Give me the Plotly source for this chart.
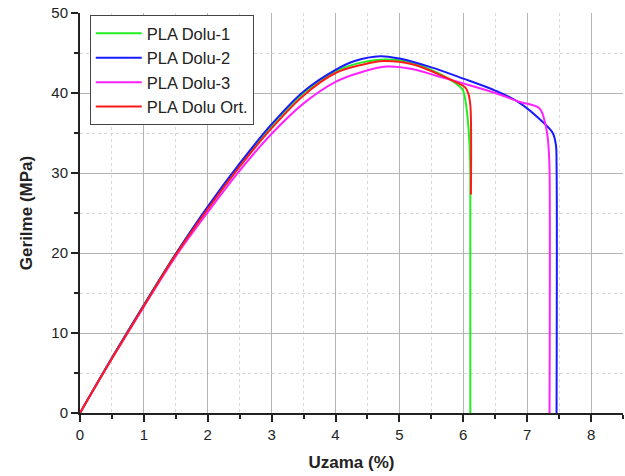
import plotly.graph_objects as go

# ---- data (strain %, stress MPa) ----
d1_x = [0, 0.5, 1.0, 1.5, 2.0, 2.5, 3.0, 3.5, 4.0, 4.4, 4.8, 5.2, 5.6, 5.9, 5.99, 6.04, 6.08, 6.10, 6.11, 6.11]
d1_y = [0, 6.9, 13.5, 19.9, 25.7, 31.0, 35.9, 40.0, 42.7, 43.8, 44.2, 43.8, 42.5, 41.1, 40.4, 38.7, 35.8, 33.0, 30.0, 0]

d2_x = [0, 0.5, 1.0, 1.5, 2.0, 2.5, 3.0, 3.5, 4.0, 4.3, 4.7, 5.0, 5.5, 6.0, 6.5, 6.875, 7.24, 7.40, 7.45, 7.46, 7.46]
d2_y = [0, 6.9, 13.5, 19.9, 25.8, 31.2, 36.1, 40.2, 42.9, 44.0, 44.6, 44.3, 43.2, 41.8, 40.3, 38.8, 36.4, 35.0, 33.5, 31.0, 0]

d3_x = [0, 0.5, 1.0, 1.5, 2.0, 2.5, 3.0, 3.5, 4.0, 4.4, 4.8, 5.2, 5.6, 6.0, 6.5, 6.875, 7.19, 7.27, 7.32, 7.34, 7.35, 7.35]
d3_y = [0, 6.8, 13.3, 19.6, 25.1, 30.3, 34.9, 38.7, 41.4, 42.6, 43.3, 43.0, 42.1, 41.2, 40.0, 38.9, 38.1, 36.6, 34.5, 32.5, 30.5, 0]

ort_x = [0, 0.5, 1.0, 1.5, 2.0, 2.5, 3.0, 3.5, 4.0, 4.4, 4.75, 5.2, 5.6, 5.9, 6.03, 6.08, 6.11, 6.12, 6.12]
ort_y = [0, 6.8, 13.4, 19.8, 25.5, 30.8, 35.6, 39.7, 42.5, 43.5, 44.0, 43.6, 42.4, 41.3, 40.7, 39.9, 38.5, 36.5, 27.3]

names = ["PLA Dolu-1", "PLA Dolu-2", "PLA Dolu-3", "PLA Dolu Ort."]
colors = ["#22ee22", "#1a1aff", "#ff22ff", "#ff1a1a"]
series = [(d1_x, d1_y), (d2_x, d2_y), (d3_x, d3_y), (ort_x, ort_y)]

x_ticks = [0, 1, 2, 3, 4, 5, 6, 7, 8]
y_ticks = [0, 10, 20, 30, 40, 50]
y_grid = [10, 20, 30, 40]          # no grid line along the top edge in the reference

FONT = "Liberation Sans, Arial, sans-serif"
INK = "#222222"
MAJOR_GRID = "#b4b4b4"
MINOR_GRID = "#d8d8d8"

fig = go.Figure()
for (xs, ys), n, c in zip(series, names, colors):
    fig.add_trace(go.Scatter(x=xs, y=ys, mode="lines", name=n,
                             line=dict(color=c, width=2, shape="spline", smoothing=1.0)))

fig.update_xaxes(
    range=[0, 8.5], tickvals=x_ticks, ticktext=[str(v) for v in x_ticks],
    showline=True, linecolor=INK, linewidth=2,
    ticks="outside", ticklen=7, tickwidth=1.5, tickcolor=INK,
    showgrid=True, gridcolor=MAJOR_GRID, gridwidth=1, zeroline=False,
    tickfont=dict(family=FONT, size=15, color=INK),
    minor=dict(dtick=0.5, tick0=0, ticks="outside", ticklen=4, tickwidth=1.5, tickcolor=INK,
               showgrid=True, gridcolor=MINOR_GRID, griddash="dot", gridwidth=1),
    title=dict(text="<b>Uzama (%)</b>", font=dict(family=FONT, size=17, color=INK), standoff=14),
)

fig.update_layout(
    yaxis=dict(
        range=[0, 50], tickvals=y_ticks, ticktext=[str(v) for v in y_ticks],
        showline=True, linecolor=INK, linewidth=2,
        ticks="outside", ticklen=7, tickwidth=1.5, tickcolor=INK,
        showgrid=False, zeroline=False,
        tickfont=dict(family=FONT, size=15, color=INK),
        minor=dict(dtick=5, tick0=0, ticks="outside", ticklen=4, tickwidth=1.5, tickcolor=INK,
                   showgrid=False),
        title=dict(text="<b>Gerilme (MPa)</b>", font=dict(family=FONT, size=17, color=INK), standoff=14),
    ),
    yaxis2=dict(
        overlaying="y", side="left", range=[0, 50], tickvals=y_grid,
        showticklabels=False, ticks="", showline=False, zeroline=False,
        showgrid=True, gridcolor=MAJOR_GRID, gridwidth=1,
        minor=dict(tickvals=[5, 15, 25, 35, 45], showgrid=True, gridcolor=MINOR_GRID,
                   griddash="dot", gridwidth=1, ticks=""),
    ),
)

# an invisible helper trace so the grid axis is drawn
fig.add_trace(go.Scatter(x=[0], y=[0], yaxis="y2", mode="markers", marker=dict(opacity=0),
                         showlegend=False, hoverinfo="skip"))

fig.update_layout(
    width=625, height=476,
    margin=dict(l=80, r=2, t=13, b=63, autoexpand=False),
    paper_bgcolor="white", plot_bgcolor="white",
    showlegend=True,
    legend=dict(x=0.018, y=0.995, xanchor="left", yanchor="top",
                bgcolor="white", bordercolor="#444444", borderwidth=1,
                font=dict(family=FONT, size=16.5, color=INK),
                tracegroupgap=0, itemwidth=46),
)

fig.write_html("out.html", config={"displayModeBar": False},
               post_script="document.body.style.margin='0px';")
